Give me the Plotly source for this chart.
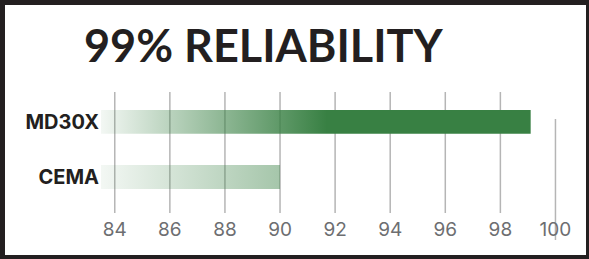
import plotly.graph_objects as go

# ---- data ----
categories = ["CEMA", "MD30X"]
values = [90.0, 99.1]
bar_base = 83.5
solid_from = [90.0, 91.7]          # where the gradient reaches full colour
end_alpha = [0.45, 1.0]
tick_vals = [84, 86, 88, 90, 92, 94, 96, 98, 100]
title_text = "99% RELIABILITY"

W, H = 589, 259
ML, MR, MT, MB = 101, 6, 92, 46
GREEN = "56,128,67"

fig = go.Figure()
half = 0.216
for i, (cat, v) in enumerate(zip(categories, values)):
    y = i
    frac = (solid_from[i] - bar_base) / (v - bar_base)
    frac = min(frac, 1.0)
    cs = [[0, f"rgba({GREEN},0.06)"], [frac, f"rgba({GREEN},{end_alpha[i]})"], [1, f"rgba({GREEN},{end_alpha[i]})"]]
    fig.add_trace(go.Scatter(
        x=[bar_base, v, v, bar_base, bar_base],
        y=[y - half, y - half, y + half, y + half, y - half],
        mode="lines", line=dict(width=0), fill="toself",
        fillgradient=dict(type="horizontal", colorscale=cs, start=bar_base, stop=v),
        hoverinfo="skip", showlegend=False,
    ))

pw = W - ML - MR
ph = H - MT - MB
def py(p):
    return (H - MB - p) / ph
def px(p):
    return (p - ML) / pw

shapes = []
for t in tick_vals:
    if t == 100:
        y0, y1 = py(240), py(119)
    else:
        y0, y1 = 0, 1
    shapes.append(dict(type="line", xref="x", yref="paper", x0=t, x1=t, y0=y0, y1=y1,
                       line=dict(color="#b5b5b5", width=1.5), layer="below"))
shapes.append(dict(type="rect", xref="paper", yref="paper",
                   x0=px(2.5), x1=px(588.5), y0=py(2.5), y1=py(257.5),
                   line=dict(color="#231f20", width=5), layer="above"))

fig.update_layout(
    width=W, height=H,
    margin=dict(l=ML, r=MR, t=MT, b=MB),
    paper_bgcolor="white", plot_bgcolor="white",
    shapes=shapes,
    xaxis=dict(range=[83.5, 101.0], tickvals=tick_vals, showgrid=False, zeroline=False,
               showline=False, ticks="", ticklabelstandoff=3,
               tickfont=dict(family="Inter", size=19, color="#6d6e71")),
    yaxis=dict(range=[-0.653, 1.543], tickvals=list(range(len(categories))), ticktext=categories,
               showgrid=False, zeroline=False, showline=False, ticks="", ticklabelstandoff=1,
               tickfont=dict(family="Inter", size=20, color="#231f20", weight="bold")),
    annotations=[dict(text=title_text, xref="paper", yref="paper",
                      x=px(263), y=py(74), xanchor="center", yanchor="bottom",
                      showarrow=False, font=dict(family="Lato", size=45, color="#231f20", weight="bold"))],
)
fig.write_html("out.html", config={"displayModeBar": False},
               post_script="document.body.style.margin='0';")
